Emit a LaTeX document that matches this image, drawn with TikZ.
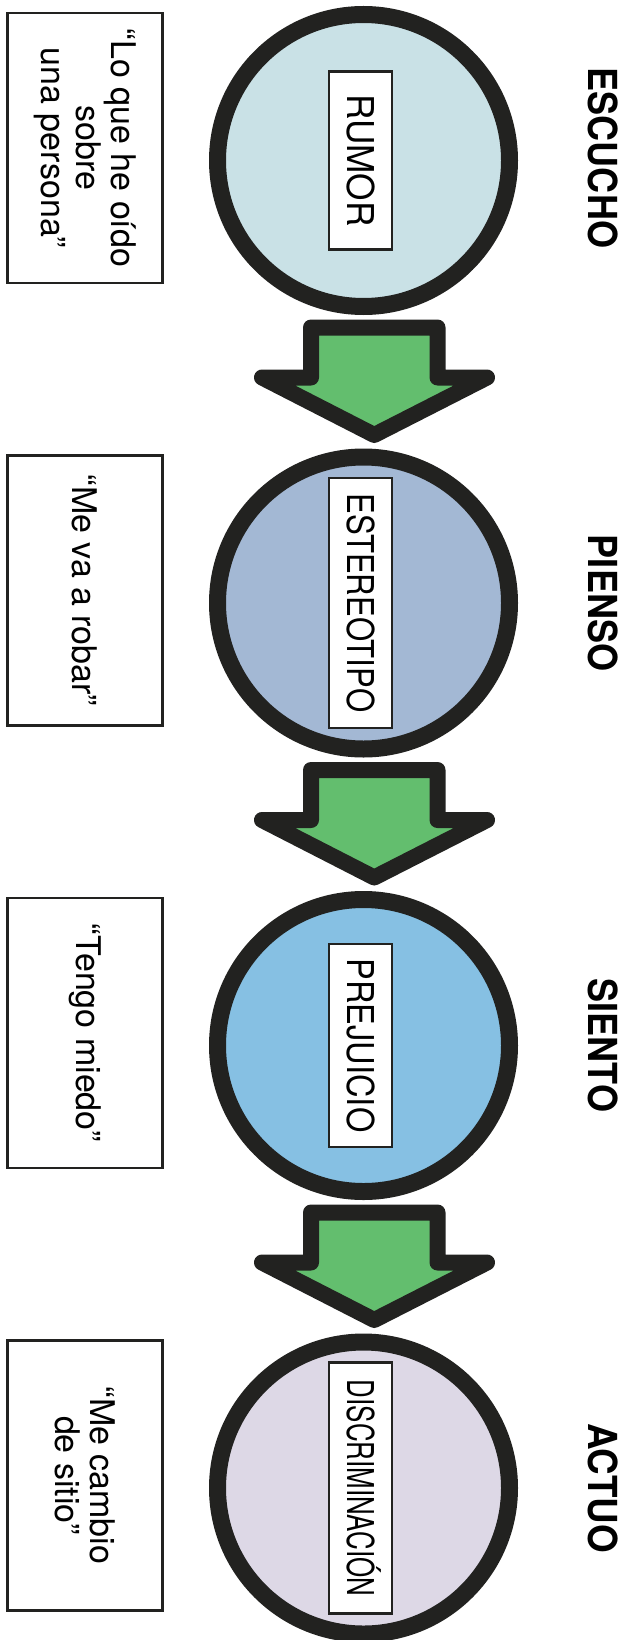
\documentclass[tikz,border=0pt]{standalone}
\usepackage{fontspec}
\usepackage{graphicx}
\setmainfont{TeX Gyre Heros}
\usetikzlibrary{calc}
\definecolor{ink}{HTML}{222220}
\definecolor{cA}{HTML}{C9E1E6}
\definecolor{cB}{HTML}{A3B8D4}
\definecolor{cC}{HTML}{86C0E3}
\definecolor{cD}{HTML}{DDD8E6}
\definecolor{grn}{HTML}{63BE6E}
\begin{document}
\begin{tikzpicture}[x=1pt,y=-1pt,
  stage/.style={circle, draw=ink, line width=17pt, minimum size=292pt, inner sep=0pt},
  tag/.style={draw=ink, fill=white, line width=2.2pt, rotate=-90, minimum height=63pt,
    inner sep=0pt, text height=26.5pt, text depth=0pt, font=\fontsize{37}{44}\selectfont},
  quotebox/.style={draw=ink, line width=2.5pt, rotate=-90, minimum width=270pt,
    minimum height=155pt, align=center, font=\fontsize{34}{35}\selectfont},
  head/.style={rotate=-90, inner sep=0pt, text height=29pt, text depth=0pt,
    font=\fontsize{40}{48}\selectfont\bfseries},
  flow/.style={draw=ink, fill=grn, line width=16pt, line join=round}]
\useasboundingbox (0,0) rectangle (629,1640);

% circles
\node[stage, fill=cA] (c1) at (363.5,160.5) {};
\node[stage, fill=cB] (c2) at (363.5,603) {};
\node[stage, fill=cC] (c3) at (363.5,1045.5) {};
\node[stage, fill=cD] (c4) at (363.5,1488) {};

% inner labels
\node[tag, minimum width=178pt] (l1) at ($(c1)+(-3,0)$) {\scalebox{0.95}[1]{RUMOR}};
\node[tag, minimum width=250pt] (l2) at ($(c2)+(-3,0)$) {\scalebox{0.84}[1]{ESTEREOTIPO}};
\node[tag, minimum width=203pt] (l3) at ($(c3)+(-3,0)$) {\scalebox{0.88}[1]{PREJUICIO}};
\node[tag, minimum width=251pt] (l4) at ($(c4)+(-3,0)$) {\scalebox{0.70}[1]{DISCRIMINACIÓN}};

% quote boxes
\node[quotebox] (q1) at (85,148) {“Lo que he oído\\sobre\\una persona”};
\node[quotebox] (q2) at (85,590.5) {“Me va a robar”};
\node[quotebox] (q3) at (85,1033) {“Tengo miedo”};
\node[quotebox] (q4) at (85,1475.5) {“Me cambio\\de sitio”};

% headings
\node[head] (h1) at (602.5,158) {\scalebox{0.9}[1]{ESCUCHO}};
\node[head] (h2) at (602.5,603) {\scalebox{0.9}[1]{PIENSO}};
\node[head] (h3) at (602.5,1045.5) {\scalebox{0.9}[1]{SIENTO}};
\node[head] (h4) at (602.5,1488) {\scalebox{0.92}[1]{ACTUO}};

% block arrows between the circles
\foreach \a/\b in {c1/c2, c2/c3, c3/c4}{
  \coordinate (m) at ($(\a)!0.5!(\b)$);
  \draw[flow] ($(m)+(-52.5,-54.25)$) -- ($(m)+(74,-54.25)$) -- ($(m)+(74,-4.25)$)
    -- ($(m)+(123.5,-4.25)$) -- ($(m)+(10.75,53.25)$) -- ($(m)+(-101.5,-4.25)$)
    -- ($(m)+(-52.5,-4.25)$) -- cycle;
}
\end{tikzpicture}
\end{document}
